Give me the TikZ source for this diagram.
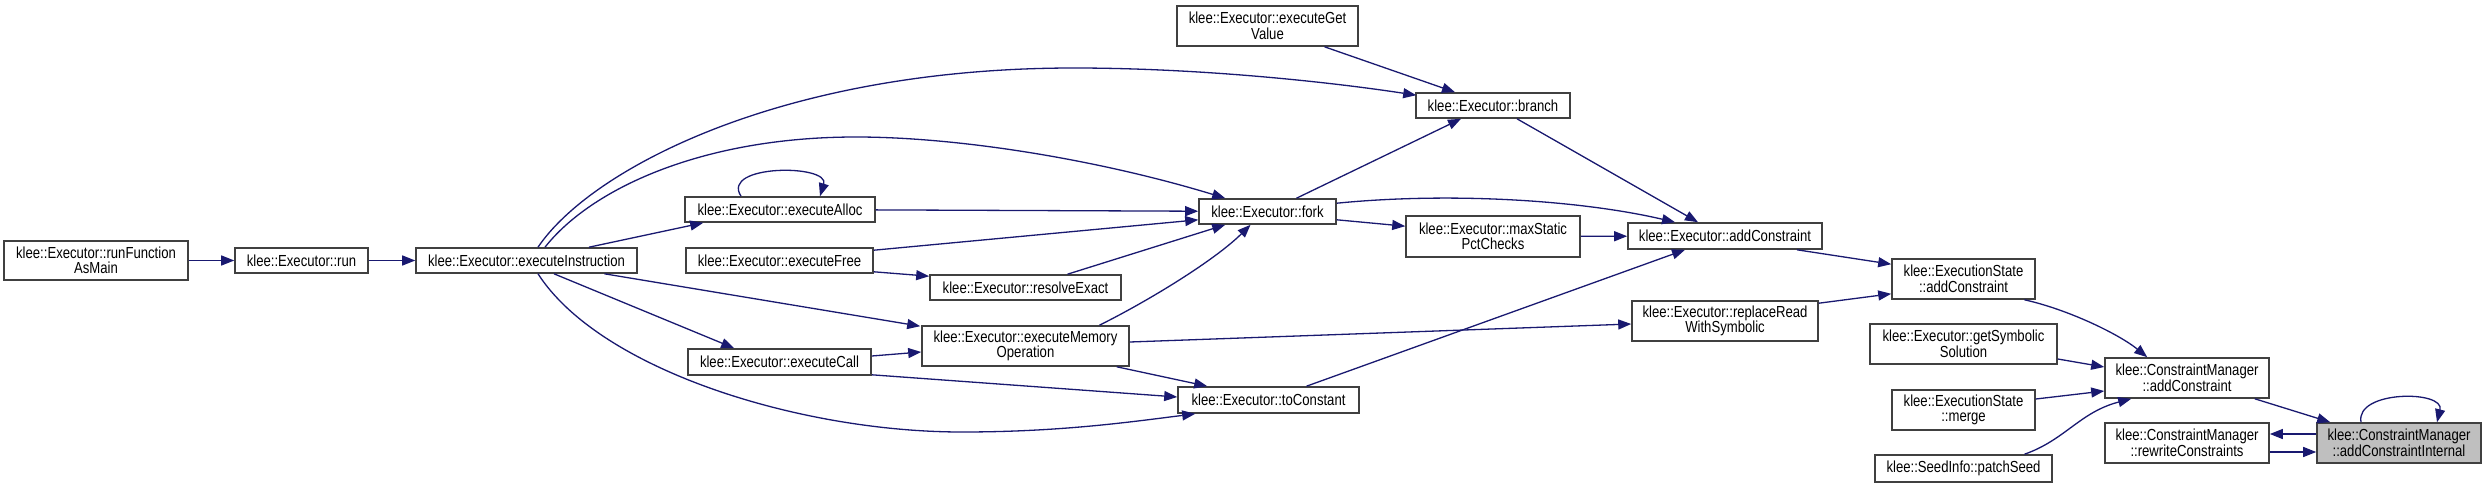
\documentclass[tikz,border=0pt]{standalone}
\usepackage{fontspec}
\setmainfont{Liberation Sans}[FakeStretch=0.82]
\usetikzlibrary{arrows.meta,calc}
\definecolor{edgeblue}{HTML}{191970}
\definecolor{boxline}{HTML}{404040}
\definecolor{hilite}{HTML}{BFBFBF}
\begin{document}
\begin{tikzpicture}[x=1pt,y=-1pt,
 box/.style={draw=boxline,line width=1.6pt,fill=white,inner sep=0pt,align=center,font=\fontsize{16}{15.5}\selectfont},
 edge/.style={draw=edgeblue,line width=1.3pt,-{Triangle[length=13pt,width=10pt]}}]
\useasboundingbox (0,0) rectangle (2487,487);
\fill[white] (0,0) rectangle (2487,487);
% nodes
\node[box,minimum width=184pt,minimum height=39pt] (rfam) at (96,260.5) {klee::Executor::runFunction\\AsMain};
\node[box,minimum width=133pt,minimum height=25pt] (run) at (301.5,260.5) {klee::Executor::run};
\node[box,minimum width=221pt,minimum height=25pt] (ei) at (526.5,260.5) {klee::Executor::executeInstruction};
\node[box,minimum width=190pt,minimum height=25pt] (alloc) at (780,209.5) {klee::Executor::executeAlloc};
\node[box,minimum width=187pt,minimum height=25pt] (free) at (779.5,260.5) {klee::Executor::executeFree};
\node[box,minimum width=191pt,minimum height=25pt] (resolve) at (1025.5,287.5) {klee::Executor::resolveExact};
\node[box,minimum width=207pt,minimum height=40pt] (memop) at (1025.5,346) {klee::Executor::executeMemory\\Operation};
\node[box,minimum width=183pt,minimum height=26pt] (call) at (779.5,362) {klee::Executor::executeCall};
\node[box,minimum width=137pt,minimum height=25pt] (fork) at (1267.5,211.5) {klee::Executor::fork};
\node[box,minimum width=181pt,minimum height=26pt] (tocon) at (1268.5,400) {klee::Executor::toConstant};
\node[box,minimum width=181pt,minimum height=40pt] (getval) at (1267.5,26) {klee::Executor::executeGet\\Value};
\node[box,minimum width=154pt,minimum height=25pt] (branch) at (1493,105.5) {klee::Executor::branch};
\node[box,minimum width=174pt,minimum height=41pt] (maxs) at (1493,236.5) {klee::Executor::maxStatic\\PctChecks};
\node[box,minimum width=194pt,minimum height=26pt] (exaddc) at (1725,236) {klee::Executor::addConstraint};
\node[box,minimum width=186pt,minimum height=40pt] (repl) at (1725,321) {klee::Executor::replaceRead\\WithSymbolic};
\node[box,minimum width=143pt,minimum height=40pt] (esadd) at (1963.5,279) {klee::ExecutionState\\::addConstraint};
\node[box,minimum width=187pt,minimum height=40pt] (getsym) at (1963.5,344) {klee::Executor::getSymbolic\\Solution};
\node[box,minimum width=164pt,minimum height=40pt] (cmadd) at (2187,378) {klee::ConstraintManager\\::addConstraint};
\node[box,minimum width=143pt,minimum height=40pt] (merge) at (1963.5,410) {klee::ExecutionState\\::merge};
\node[box,minimum width=164pt,minimum height=40pt] (rewrite) at (2187,443) {klee::ConstraintManager\\::rewriteConstraints};
\node[box,fill=hilite,minimum width=164pt,minimum height=40pt] (aci) at (2399,443) {klee::ConstraintManager\\::addConstraintInternal};
\node[box,minimum width=177pt,minimum height=27pt] (patch) at (1963.5,468.5) {klee::SeedInfo::patchSeed};
% edges
\draw[edge] (rfam) -- (run);
\draw[edge] (run) -- (ei);
\draw[edge] ($(ei.north)+(11.5,0)$) .. controls (590,170) and (780,68) .. (1074,68) .. controls (1200,68) and (1330,82) .. ($(branch.north west)+(1,3)$);
\draw[edge] ($(ei.north)+(18.5,0)$) .. controls (590,190) and (700,137) .. (856,137) .. controls (960,137) and (1100,160) .. ($(fork.north west)+(27,0)$);
\draw[edge] ($(ei.north)+(62.5,0)$) -- ($(alloc.south west)+(19,0)$);
\draw[edge] ($(ei.south)+(78,0)$) -- ($(memop.north west)+(-1,1)$);
\draw[edge] ($(ei.south)+(27.5,0)$) -- ($(call.north west)+(47,0)$);
\draw[edge] ($(ei.south)+(11.5,0)$) .. controls (600,370) and (800,432) .. (962,432) .. controls (1060,432) and (1130,422) .. ($(tocon.south west)+(18,0)$);
\draw[edge] (alloc) -- (fork);
\draw[edge] ($(alloc.north)+(-39,0)$) .. controls (720,164) and (830,164) .. ($(alloc.north)+(40,0)$);
\draw[edge] ($(free.north east)+(0,3)$) -- ($(fork.south west)+(0,-5)$);
\draw[edge] ($(free.south east)+(0,-2)$) -- ($(resolve.north west)+(0,2)$);
\draw[edge] ($(resolve.north)+(42,0)$) -- ($(fork.south west)+(27,0)$);
\draw[edge] ($(memop.north)+(74,0)$) .. controls (1150,300) and (1215,260) .. ($(fork.south)+(-17,0)$);
\draw[edge] ($(call.east)+(0,-6)$) -- ($(memop.west)+(0,6)$);
\draw[edge] ($(call.south east)+(0,-1)$) -- ($(tocon.west)+(0,-3)$);
\draw[edge] ($(memop.south east)+(-13,0)$) -- ($(tocon.north west)+(30,0)$);
\draw[edge] ($(memop.east)+(0,-4)$) -- ($(repl.west)+(0,3)$);
\draw[edge] ($(tocon.north)+(38,0)$) -- ($(exaddc.south)+(-40,0)$);
\draw[edge] ($(fork.north)+(29,0)$) -- ($(branch.south)+(-32,0)$);
\draw[edge] ($(fork.north east)+(0,5)$) .. controls (1450,192) and (1580,200) .. ($(exaddc.north)+(-50,0)$);
\draw[edge] ($(fork.south east)+(0,-5)$) -- ($(maxs.north west)+(0,11)$);
\draw[edge] ($(branch.south)+(24,0)$) -- ($(exaddc.north)+(-27,0)$);
\draw[edge] ($(getval.south)+(57,0)$) -- ($(branch.north)+(-38,0)$);
\draw[edge] (maxs) -- (exaddc);
\draw[edge] ($(exaddc.south)+(72,0)$) -- ($(esadd.north west)+(0,6)$);
\draw[edge] ($(repl.north east)+(0,3)$) -- ($(esadd.south west)+(0,-6)$);
\draw[edge] ($(esadd.south)+(61,0)$) .. controls (2070,310) and (2120,335) .. ($(cmadd.north west)+(43,0)$);
\draw[edge] ($(getsym.east)+(0,15)$) -- ($(cmadd.west)+(0,-11)$);
\draw[edge] ($(merge.east)+(0,-11)$) -- ($(cmadd.west)+(0,13)$);
\draw[edge] ($(patch.north)+(61,0)$) .. controls (2065,440) and (2080,412) .. ($(cmadd.south west)+(27,0)$);
\draw[edge] ($(cmadd.south east)+(-15,0)$) -- ($(aci.north west)+(14,0)$);
\draw[edge] ($(aci.west)+(0,-9)$) -- ($(rewrite.east)+(0,-9)$);
\draw[edge] ($(rewrite.east)+(0,9)$) -- ($(aci.west)+(0,9)$);
\draw[edge] ($(aci.north)+(-38,0)$) .. controls (2355,390) and (2445,390) .. ($(aci.north)+(38,0)$);
\end{tikzpicture}
\end{document}
